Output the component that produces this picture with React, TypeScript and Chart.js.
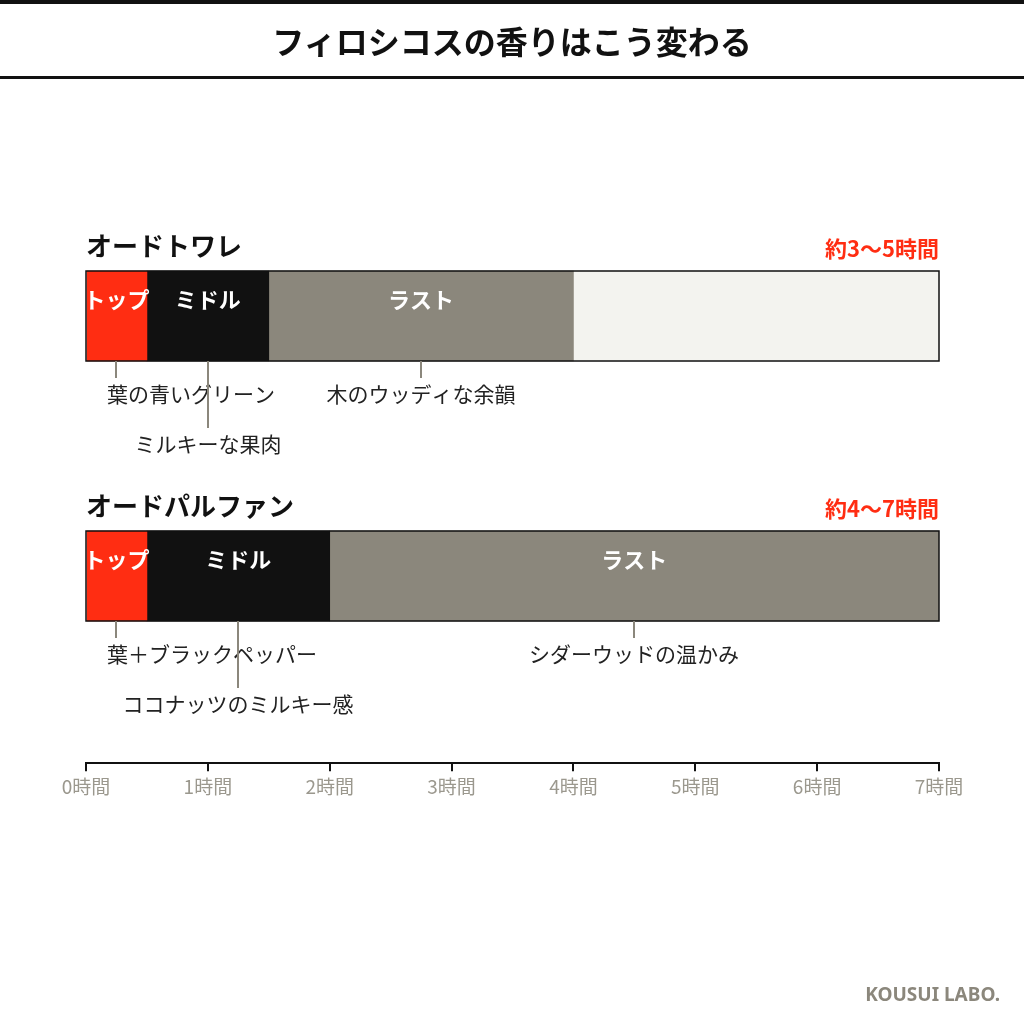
import { useEffect, useRef } from "react";
import { Chart, registerables } from "chart.js";

Chart.register(...registerables);

const FONT = "'Noto Sans CJK JP', 'Noto Sans', sans-serif";

const ROWS = ["オードトワレ", "オードパルファン"];
const DURATIONS = ["約3〜5時間", "約4〜7時間"];
const PHASES = ["トップ", "ミドル", "ラスト", ""];
const PHASE_COLORS = ["#ff2d12", "#111111", "#8b877c", "#f3f3ef"];

// hours per phase, one value per row
const TOP_HOURS = [0.5, 0.5];
const MIDDLE_HOURS = [1.0, 1.5];
const LAST_HOURS = [2.5, 5];
const REST_HOURS = [3, 0];

const NOTE_LABELS = [
  ["葉の青いグリーン", "ミルキーな果肉", "木のウッディな余韻"],
  ["葉＋ブラックペッパー", "ココナッツのミルキー感", "シダーウッドの温かみ"],
];
const NOTE_HOURS = [
  [0.25, 1.0, 2.75],
  [0.25, 1.25, 4.5],
];
const NOTE_LEVEL = [
  [0, 1, 0],
  [0, 1, 0],
];

const HOUR_MIN = 0;
const HOUR_MAX = 7;

const BAR_H = 90;

const notesPlugin = {
  id: "notes",
  afterDatasetsDraw(chart: any) {
    const { ctx, scales } = chart;
    const xs = scales.x;
    const ys = scales.y;
    const left = xs.getPixelForValue(HOUR_MIN);
    const right = xs.getPixelForValue(HOUR_MAX);
    const phaseData = [TOP_HOURS, MIDDLE_HOURS, LAST_HOURS, REST_HOURS];

    ctx.save();
    ROWS.forEach((name, i) => {
      const cy = ys.getPixelForValue(i);
      const top = cy - BAR_H / 2;
      const bottom = cy + BAR_H / 2;

      // phase names inside the bar
      let start = 0;
      phaseData.forEach((arr, p) => {
        const v = arr[i];
        if (PHASES[p] && v > 0) {
          const mid = xs.getPixelForValue(start + v / 2);
          ctx.fillStyle = "#ffffff";
          ctx.font = `bold 22px ${FONT}`;
          ctx.textAlign = "center";
          ctx.textBaseline = "middle";
          ctx.fillText(PHASES[p], mid, top + 29);
        }
        start += v;
      });

      // outline
      ctx.strokeStyle = "#111111";
      ctx.lineWidth = 1.5;
      ctx.strokeRect(left, top, right - left, BAR_H);

      // row title and duration
      ctx.textBaseline = "middle";
      ctx.textAlign = "left";
      ctx.fillStyle = "#111111";
      ctx.font = `bold 26px ${FONT}`;
      ctx.fillText(name, left, top - 25);
      ctx.textAlign = "right";
      ctx.fillStyle = "#ff2d12";
      ctx.font = `bold 22px ${FONT}`;
      ctx.fillText(DURATIONS[i], right, top - 22);

      // notes below the bar
      NOTE_LABELS[i].forEach((label, n) => {
        const x = Math.round(xs.getPixelForValue(NOTE_HOURS[i][n]));
        const depth = NOTE_LEVEL[i][n] === 0 ? 17 : 67;
        ctx.strokeStyle = "#8b877c";
        ctx.lineWidth = 2;
        ctx.beginPath();
        ctx.moveTo(x, bottom);
        ctx.lineTo(x, bottom + depth);
        ctx.stroke();

        ctx.font = `21px ${FONT}`;
        const w = ctx.measureText(label).width;
        const textLeft = Math.max(x - w / 2, left + 21);
        ctx.fillStyle = "#222222";
        ctx.textAlign = "left";
        ctx.fillText(label, textLeft, bottom + depth + 16);
      });
    });
    ctx.restore();
  },
};

export default function App() {
  const canvasRef = useRef<HTMLCanvasElement>(null);
  const chartRef = useRef<Chart | null>(null);

  useEffect(() => {
    if (!canvasRef.current) return;
    chartRef.current?.destroy();

    const series = [TOP_HOURS, MIDDLE_HOURS, LAST_HOURS, REST_HOURS];

    chartRef.current = new Chart(canvasRef.current, {
      type: "bar",
      data: {
        datasets: series.map((arr, p) => ({
          label: PHASES[p] || "残り",
          data: arr.map((v, i) => ({ x: v, y: i })),
          backgroundColor: PHASE_COLORS[p],
          borderWidth: 0,
          barThickness: BAR_H,
        })),
      },
      options: {
        indexAxis: "y",
        animation: false,
        responsive: true,
        maintainAspectRatio: false,
        layout: { padding: { left: 86, right: 85, top: 186, bottom: 222 } },
        plugins: {
          legend: { display: false },
          tooltip: { enabled: false },
        },
        scales: {
          x: {
            type: "linear",
            stacked: true,
            min: HOUR_MIN,
            max: HOUR_MAX,
            grid: {
              drawOnChartArea: false,
              drawTicks: true,
              tickLength: 8,
              color: "#111111",
              lineWidth: 2,
            },
            border: { display: true, color: "#111111", width: 2 },
            ticks: {
              stepSize: 1,
              padding: 4,
              color: "#9b988e",
              font: { family: FONT, size: 19 },
              callback: (v: any) => `${v}時間`,
            },
          },
          y: {
            type: "linear",
            stacked: true,
            reverse: true,
            display: false,
            offset: false,
            min: -0.5,
            max: 1.72,
          },
        },
      },
      plugins: [notesPlugin],
    } as any);

    return () => {
      chartRef.current?.destroy();
      chartRef.current = null;
    };
  }, []);

  return (
    <div
      style={{
        position: "absolute",
        top: 0,
        left: 0,
        width: 1024,
        height: 1024,
        background: "#ffffff",
        fontFamily: FONT,
      }}
    >
      <canvas ref={canvasRef} />
      <div
        style={{
          position: "absolute",
          top: 0,
          left: 0,
          width: 1024,
          height: 79,
          boxSizing: "border-box",
          borderTop: "4px solid #111111",
          borderBottom: "3px solid #111111",
          display: "flex",
          alignItems: "center",
          justifyContent: "center",
          fontWeight: 700,
          fontSize: 32,
          color: "#111111",
        }}
      >
        フィロシコスの香りはこう変わる
      </div>
      <div
        style={{
          position: "absolute",
          right: 24,
          top: 980,
          fontFamily: "'Noto Sans', sans-serif",
          fontWeight: 700,
          fontSize: 19,
          color: "#8b877c",
          lineHeight: "28px",
        }}
      >
        KOUSUI LABO.
      </div>
    </div>
  );
}
